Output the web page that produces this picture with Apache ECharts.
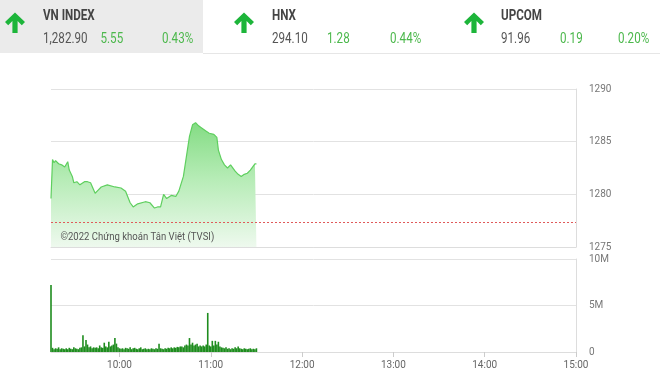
<!DOCTYPE html>
<html><head><meta charset="utf-8">
<script src="https://cdn.jsdelivr.net/npm/echarts@6/dist/echarts.min.js"></script>
<style>html,body{margin:0;padding:0;background:#fff}#c{width:660px;height:374px}</style>
</head><body><div id="c"></div><script>
// ---- header data ----
const indexNames = ['VN INDEX', 'HNX', 'UPCOM'];
const indexValues = ['1,282.90', '294.10', '91.96'];
const indexChanges = ['5.55', '1.28', '0.19'];
const indexPercents = ['0.43%', '0.44%', '0.20%'];
const copyrightText = '©2022 Chứng khoán Tân Việt (TVSI)';

// ---- price data ----
const refPrice = 1277.35;
const priceTimes = ['09:15','09:16','09:17','09:18','09:20','09:21','09:22','09:24','09:26','09:27',
  '09:29','09:30','09:32','09:34','09:37','09:39','09:41','09:44','09:46','09:48',
  '09:52','09:57','10:01','10:04','10:07','10:09','10:12','10:17','10:20','10:23',
  '10:25','10:27','10:29','10:31','10:34','10:37','10:39','10:42','10:44','10:46',
  '10:48','10:50','10:52','10:54','10:57','10:59','11:02','11:04','11:05','11:07',
  '11:09','11:11','11:13','11:16','11:18','11:20','11:22','11:24','11:26','11:29','11:30'];
const priceValues = [1279.6,1283.3,1283.0,1283.2,1282.9,1283.0,1282.8,1282.6,1283.1,1282.3,
  1281.7,1281.1,1281.2,1280.9,1281.2,1281.2,1281.1,1280.1,1280.4,1280.7,
  1280.9,1280.7,1280.6,1280.3,1279.2,1278.8,1279.1,1279.3,1279.2,1278.7,
  1278.8,1278.8,1280.0,1279.6,1279.9,1279.8,1280.3,1281.7,1283.6,1285.5,
  1286.6,1286.8,1286.5,1286.3,1286.0,1285.8,1285.7,1285.4,1284.2,1283.3,
  1282.8,1282.5,1282.8,1282.2,1281.9,1281.7,1281.9,1282.0,1282.3,1282.9,1282.9];

// ---- volume data (millions, one per minute from volStart) ----
const volStart = '09:15';
const volumes = [7.2,0.45,0.3,0.4,0.35,0.5,0.3,0.4,0.35,0.3,
  0.4,0.3,0.45,0.35,0.3,0.5,0.4,0.35,0.3,0.45,
  0.5,1.8,0.6,1.3,0.8,0.5,0.6,0.4,0.5,0.45,
  0.5,0.4,0.7,0.5,0.45,1.0,0.6,0.5,1.1,0.6,
  0.7,0.8,1.5,0.9,0.5,0.4,0.35,0.4,0.3,0.45,
  0.4,0.35,0.5,0.3,0.4,0.45,0.35,0.3,0.4,0.5,
  0.3,0.35,0.4,0.3,0.35,0.3,0.4,0.35,0.3,0.4,
  0.35,0.9,0.4,0.35,0.3,0.4,0.35,0.45,0.4,0.5,
  0.4,0.5,0.45,0.55,0.5,0.6,0.6,0.5,0.7,0.8,
  0.7,1.5,0.8,1.0,0.7,0.8,0.9,0.6,0.7,0.6,
  0.7,0.6,0.8,4.2,0.7,0.6,1.2,0.7,1.2,0.8,
  1.1,0.6,0.5,0.45,0.4,0.5,0.35,0.4,0.3,0.4,
  0.35,0.5,0.4,0.6,0.4,0.35,0.3,0.4,0.35,0.3,
  0.35,0.4,0.3,0.35,0.3,0.4];

// ---- axis ticks ----
const axisStart = '09:15';
const axisEnd = '15:00';
const timeTicks = ['10:00','11:00','12:00','13:00','14:00','15:00'];
const priceMin = 1275, priceMax = 1290, priceStep = 5;
const volMax = 10, volStep = 5;

function toMin(s){ const p = s.split(':'); return (+p[0]) * 60 + (+p[1]); }
function fmtMin(v){ const h = Math.floor(v / 60), m = Math.round(v % 60); return (h < 10 ? '0' : '') + h + ':' + (m < 10 ? '0' : '') + m; }

const narrow = "'Liberation Sans Narrow', 'Roboto', sans-serif";
const GREEN_TXT = '#4cb84c';
const ARROW = '#1db53a';

const headerX = [43, 272, 501];
const changeX = [100.5, 327, 560];
const pctX = [162, 390, 618];
const arrowCx = [15, 244, 474];

const graphics = [
  { type: 'rect', shape: { x: 0, y: 0, width: 203, height: 53 }, style: { fill: '#ebebeb' }, z: 0 },
  { type: 'line', shape: { x1: 203, y1: 53.5, x2: 660, y2: 53.5 }, style: { stroke: '#e6e6e6', lineWidth: 1 } }
];
function txt(x, y, s, font, color){
  return { type: 'text', x: x, y: y, scaleX: 0.83, z: 10,
    style: { text: s, x: 0, y: 0, font: font, fill: color, textAlign: 'left', textVerticalAlign: 'middle', verticalAlign: 'middle' } };
}
for (let i = 0; i < 3; i++) {
  const cx = arrowCx[i];
  graphics.push({ type: 'polygon', z: 10, shape: { points: [
    [cx, 12.5], [cx + 10, 22], [cx + 6.8, 25.2], [cx + 2.6, 21], [cx + 2.6, 33], [cx - 2.6, 33],
    [cx - 2.6, 21], [cx - 6.8, 25.2], [cx - 10, 22]] }, style: { fill: ARROW } });
  graphics.push(txt(headerX[i], 16, indexNames[i], 'bold 14px Roboto', '#444'));
  graphics.push(txt(headerX[i], 39.5, indexValues[i], '14px Roboto', '#555'));
  graphics.push(txt(changeX[i], 39.5, indexChanges[i], '14px Roboto', GREEN_TXT));
  graphics.push(txt(pctX[i], 39.5, indexPercents[i], '14px Roboto', GREEN_TXT));
}
graphics.push(txt(60.5, 237.5, copyrightText, '11.5px Roboto', '#555'));

const lineData = priceTimes.map((t, i) => [toMin(t), priceValues[i]]);
const v0 = toMin(volStart);
const barData = volumes.map((v, i) => [v0 + i, v]);
const tickVals = timeTicks.map(toMin);

const chart = echarts.init(document.getElementById('c'), null, { renderer: 'canvas' });
chart.setOption({
  animation: false,
  backgroundColor: '#fff',
  graphic: graphics,
  grid: [
    { left: 51, top: 89, width: 525, height: 158 },
    { left: 51, top: 259, width: 525, height: 93 }
  ],
  xAxis: [
    { gridIndex: 0, type: 'value', min: toMin(axisStart), max: toMin(axisEnd),
      axisLine: { show: true, lineStyle: { color: '#ddd' } }, axisTick: { show: false },
      axisLabel: { show: false }, splitLine: { show: false } },
    { gridIndex: 1, type: 'value', min: toMin(axisStart), max: toMin(axisEnd),
      axisLine: { show: true, lineStyle: { color: '#ddd' } },
      axisTick: { show: true, customValues: tickVals, length: 5, lineStyle: { color: '#ccc' } },
      axisLabel: { customValues: tickVals, formatter: v => fmtMin(v), color: '#666', fontSize: 10,
        fontFamily: narrow, margin: 8 },
      splitLine: { show: false } }
  ],
  yAxis: [
    { gridIndex: 0, type: 'value', position: 'right', min: priceMin, max: priceMax, interval: priceStep,
      axisLine: { show: true, lineStyle: { color: '#ddd' } }, axisTick: { show: false },
      axisLabel: { margin: 13, color: '#777', fontSize: 10, fontFamily: narrow, formatter: v => String(v) },
      splitLine: { lineStyle: { color: '#e2e2e2' } } },
    { gridIndex: 1, type: 'value', position: 'right', min: 0, max: volMax, interval: volStep,
      axisLine: { show: true, lineStyle: { color: '#ddd' } }, axisTick: { show: false },
      axisLabel: { margin: 13, color: '#777', fontSize: 10, fontFamily: narrow,
        formatter: v => v === 0 ? '0' : v + 'M' },
      splitLine: { lineStyle: { color: '#e2e2e2' } } }
  ],
  series: [
    { type: 'line', xAxisIndex: 0, yAxisIndex: 0, data: lineData, showSymbol: false, symbol: 'none',
      lineStyle: { color: '#5fcf5f', width: 1.2 },
      areaStyle: { origin: 'start', opacity: 1, color: new echarts.graphic.LinearGradient(0, 0, 0, 1, [
        { offset: 0, color: '#84dc84' },
        { offset: 0.45, color: '#b6ecb6' },
        { offset: 1, color: '#eef9ee' }]) },
      markLine: { silent: true, symbol: 'none', label: { show: false },
        lineStyle: { color: '#e05a5a', type: [2, 2], width: 1 },
        data: [{ yAxis: refPrice }] } },
    { type: 'bar', xAxisIndex: 1, yAxisIndex: 1, data: barData, barWidth: 1.6,
      itemStyle: { color: '#1e8c1e' } }
  ]
});
</script></body></html>
